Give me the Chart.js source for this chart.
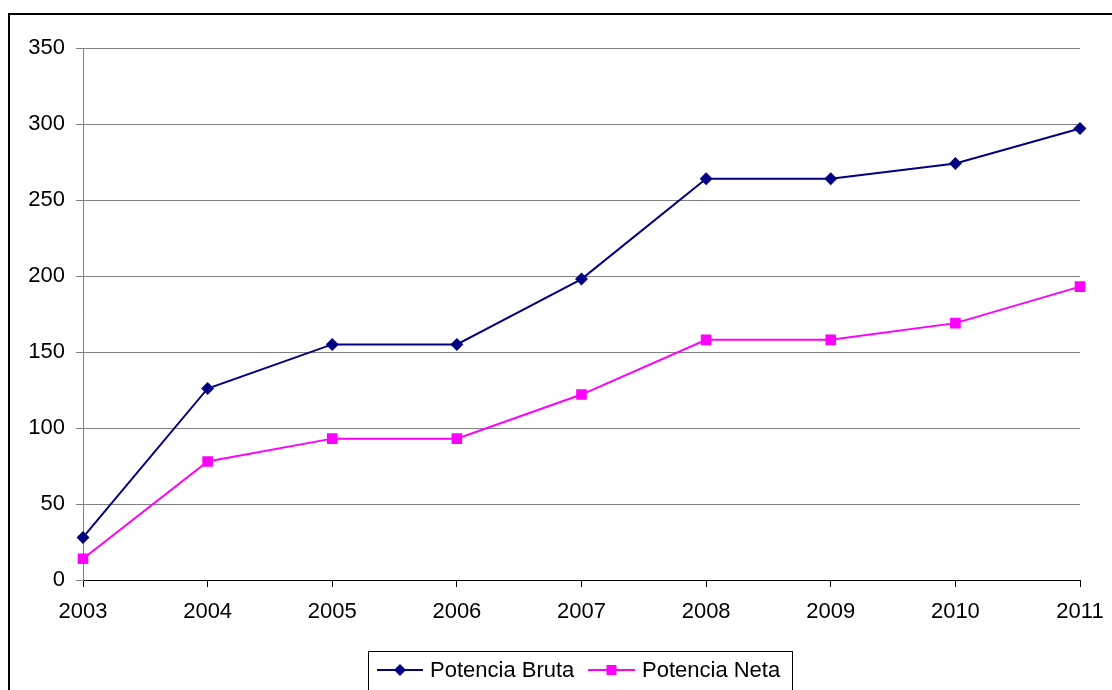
<!DOCTYPE html>
<html>
<head>
<meta charset="utf-8">
<title>Potencia Bruta y Neta 2003-2011</title>
<script src="https://cdn.jsdelivr.net/npm/chart.js@4/dist/chart.umd.min.js"></script>
<style>
  html, body { margin: 0; padding: 0; background: #fff; }
  #wrap { width: 1112px; height: 690px; position: relative; }
</style>
</head>
<body>
<div id="wrap"><canvas id="chart" width="1112" height="690"></canvas></div>
<script>
// Years on the horizontal axis
const years = ['2003', '2004', '2005', '2006', '2007', '2008', '2009', '2010', '2011'];
// Series values
const potenciaBruta = [28, 126, 155, 155, 198, 264, 264, 274, 297];
const potenciaNeta = [14, 78, 93, 93, 122, 158, 158, 169, 193];
// Value axis range
const yMin = 0;
const yMax = 350;
const yStep = 50;

const FONT = 'Liberation Sans, Arial, sans-serif';
const NAVY = '#000080';
const MAGENTA = '#FF00FF';

// Frame around the whole chart and the boxed legend underneath it
const framePlugin = {
  id: 'frameAndLegend',
  afterDraw(chart) {
    const ctx = chart.ctx;
    ctx.save();
    ctx.strokeStyle = '#000';
    ctx.lineWidth = 2;
    ctx.strokeRect(9, 14, 1120, 700);

    ctx.lineWidth = 1;
    ctx.strokeRect(368.5, 651.5, 424, 60);

    const items = [
      { label: chart.data.datasets[0].label, color: NAVY, style: 'diamond', x0: 377, x1: 423, tx: 430 },
      { label: chart.data.datasets[1].label, color: MAGENTA, style: 'square', x0: 588, x1: 635, tx: 642 }
    ];
    const y = 670;
    items.forEach(it => {
      ctx.strokeStyle = it.color;
      ctx.fillStyle = it.color;
      ctx.lineWidth = 2;
      ctx.beginPath();
      ctx.moveTo(it.x0, y);
      ctx.lineTo(it.x1, y);
      ctx.stroke();
      const cx = (it.x0 + it.x1) / 2;
      ctx.beginPath();
      if (it.style === 'diamond') {
        ctx.moveTo(cx, y - 6);
        ctx.lineTo(cx + 6, y);
        ctx.lineTo(cx, y + 6);
        ctx.lineTo(cx - 6, y);
        ctx.closePath();
      } else {
        ctx.rect(cx - 5, y - 5, 10, 10);
      }
      ctx.fill();
      ctx.fillStyle = '#000';
      ctx.font = '22px ' + FONT;
      ctx.textBaseline = 'middle';
      ctx.textAlign = 'left';
      ctx.fillText(it.label, it.tx, y + 1);
    });
    ctx.restore();
  }
};

new Chart(document.getElementById('chart'), {
  type: 'line',
  data: {
    labels: years,
    datasets: [
      {
        label: 'Potencia Bruta',
        data: potenciaBruta,
        borderColor: NAVY,
        backgroundColor: NAVY,
        borderWidth: 2,
        pointStyle: 'rectRot',
        pointRadius: 6.5,
        pointBorderWidth: 0,
        tension: 0,
        fill: false
      },
      {
        label: 'Potencia Neta',
        data: potenciaNeta,
        borderColor: MAGENTA,
        backgroundColor: MAGENTA,
        borderWidth: 2,
        pointStyle: 'rect',
        pointRadius: 7.5,
        pointBorderWidth: 0,
        tension: 0,
        fill: false
      }
    ]
  },
  options: {
    responsive: false,
    animation: false,
    devicePixelRatio: 1,
    layout: { padding: { top: 48, right: 32, left: 0, bottom: 0 } },
    plugins: {
      legend: { display: false },
      tooltip: { enabled: false },
      title: { display: false }
    },
    scales: {
      x: {
        type: 'category',
        offset: false,
        grid: { drawOnChartArea: false, drawTicks: true, tickLength: 7, color: '#000' },
        border: { color: '#000', width: 1 },
        ticks: { color: '#000', font: { family: FONT, size: 22 }, padding: 12, maxRotation: 0, autoSkip: false },
        afterFit(scale) {
          scale.height = 110;
          scale.paddingRight = 28;
          scale.paddingLeft = 0;
        }
      },
      y: {
        min: yMin,
        max: yMax,
        grid: { color: '#808080', lineWidth: 1, tickLength: 7 },
        border: { color: '#808080', width: 1 },
        ticks: { stepSize: yStep, color: '#000', font: { family: FONT, size: 22 }, padding: 11 },
        afterFit(scale) { scale.width = 83; }
      }
    }
  },
  plugins: [framePlugin]
});
</script>
</body>
</html>
